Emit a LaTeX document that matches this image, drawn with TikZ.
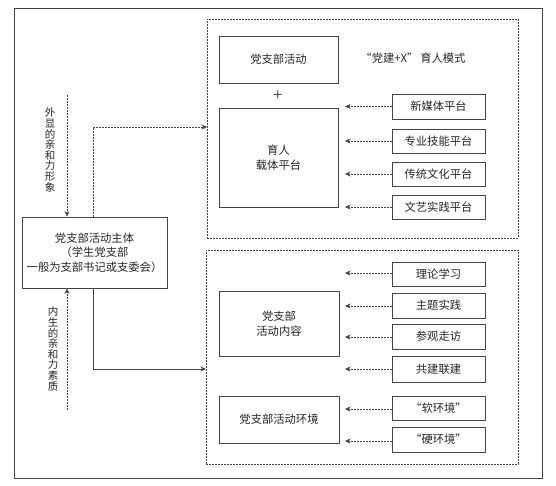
\documentclass[tikz,border=0pt]{standalone}
\usepackage{fontspec}
\setmainfont{Noto Sans CJK SC}
\usetikzlibrary{arrows.meta}
\definecolor{ln}{HTML}{444444}
\tikzset{
  box/.style={draw=ln,line width=0.8pt,rectangle,inner sep=0pt,align=center,font=\fontsize{11.3}{14.5}\selectfont,text=black!85},
  frame/.style={draw=ln,line width=0.6pt,dash pattern=on 1.6pt off 1.4pt,rectangle,inner sep=0pt},
  dotarrow/.style={draw=ln,line width=0.6pt,dash pattern=on 1.6pt off 1.4pt,-{Stealth[length=5.5pt,width=5pt]}},
  solidarrow/.style={draw=ln,line width=0.7pt,-{Stealth[length=5.5pt,width=5pt]}},
  vlabel/.style={align=center,inner sep=0pt,font=\fontsize{10.5}{10.6}\selectfont,text=black!85},
  lbl/.style={inner sep=0pt,font=\fontsize{11.3}{14}\selectfont,text=black!85}
}
\begin{document}
\begin{tikzpicture}[x=1pt,y=-1pt]
\useasboundingbox (0,0) rectangle (556,486);
\fill[white] (0,0) rectangle (556,486);
% outer frame
\draw[ln,line width=0.9pt] (14,8) rectangle (542,478);
% dashed frames
\node[frame,minimum width=311pt,minimum height=219pt] (top) at (362.5,128.5) {};
\node[frame,minimum width=312pt,minimum height=214pt] (bot) at (362,357) {};
% main box
\node[box,minimum width=145pt,minimum height=71pt] (main) at (94.5,252.5) {党支部活动主体\\（学生党支部\\一般为支部书记或支委会）};
% top frame contents
\node[box,minimum width=119pt,minimum height=47pt] (act) at (278.5,59.5) {党支部活动};
\node[lbl,font=\fontsize{17}{18}\selectfont\fontspec{Liberation Serif}] (plus) at (278,96) {+};
\node[box,minimum width=119pt,minimum height=99pt] (carrier) at (278.5,157.5) {育人\\载体平台};
\node[lbl] (mode) at (413,58) {“党建+X”\,育人模式};
\node[box,minimum width=93pt,minimum height=25pt] (p1) at (438.5,106.5) {新媒体平台};
\node[box,minimum width=93pt,minimum height=24pt] (p2) at (438.5,141) {专业技能平台};
\node[box,minimum width=93pt,minimum height=24pt] (p3) at (438.5,174) {传统文化平台};
\node[box,minimum width=93pt,minimum height=24pt] (p4) at (438.5,207) {文艺实践平台};
\coordinate (a1) at (345,106.5);
\coordinate (a2) at (345,141);
\coordinate (a3) at (345,174);
\coordinate (a4) at (345,207);
\foreach \i in {1,2,3,4} \draw[dotarrow] (p\i.west) -- (a\i);
% bottom frame contents
\node[box,minimum width=120pt,minimum height=65pt] (content) at (279,323.5) {党支部\\活动内容};
\node[box,minimum width=120pt,minimum height=47pt] (env) at (279,419.5) {党支部活动环境};
\node[box,minimum width=93pt,minimum height=24pt] (q1) at (438.5,274) {理论学习};
\node[box,minimum width=93pt,minimum height=25pt] (q2) at (438.5,305.5) {主题实践};
\node[box,minimum width=93pt,minimum height=25pt] (q3) at (438.5,336.5) {参观走访};
\node[box,minimum width=93pt,minimum height=26pt] (q4) at (438.5,369) {共建联建};
\node[box,minimum width=93pt,minimum height=24pt] (q5) at (438.5,408) {“软环境”};
\node[box,minimum width=93pt,minimum height=25pt] (q6) at (438.5,439.5) {“硬环境”};
\coordinate (b1) at (345,273);
\coordinate (b2) at (345,306);
\coordinate (b3) at (345,337);
\coordinate (b4) at (345,369);
\coordinate (b5) at (345,409);
\coordinate (b6) at (345,441);
\foreach \i in {1,...,6} \draw[dotarrow] (q\i.west |- b\i) -- (b\i);
% connectors from main box
\coordinate (mtop) at (93,217);
\coordinate (mbot) at (93,288);
\coordinate (topin) at (207,127);
\coordinate (botin) at (206,369);
\draw[dotarrow] (mtop) |- (topin);
\draw[solidarrow] (mbot) |- (botin);
% vertical dashed arrows with labels
\coordinate (vs1) at (67,95);
\coordinate (vs2) at (67,410);
\draw[dotarrow] (vs1) -- (vs1 |- main.north);
\draw[dotarrow] (vs2) -- (vs2 |- main.south);
\node[vlabel] (l1) at (50,150) {外\\显\\的\\亲\\和\\力\\形\\象};
\node[vlabel] (l2) at (53,349) {内\\生\\的\\亲\\和\\力\\素\\质};
\end{tikzpicture}
\end{document}
